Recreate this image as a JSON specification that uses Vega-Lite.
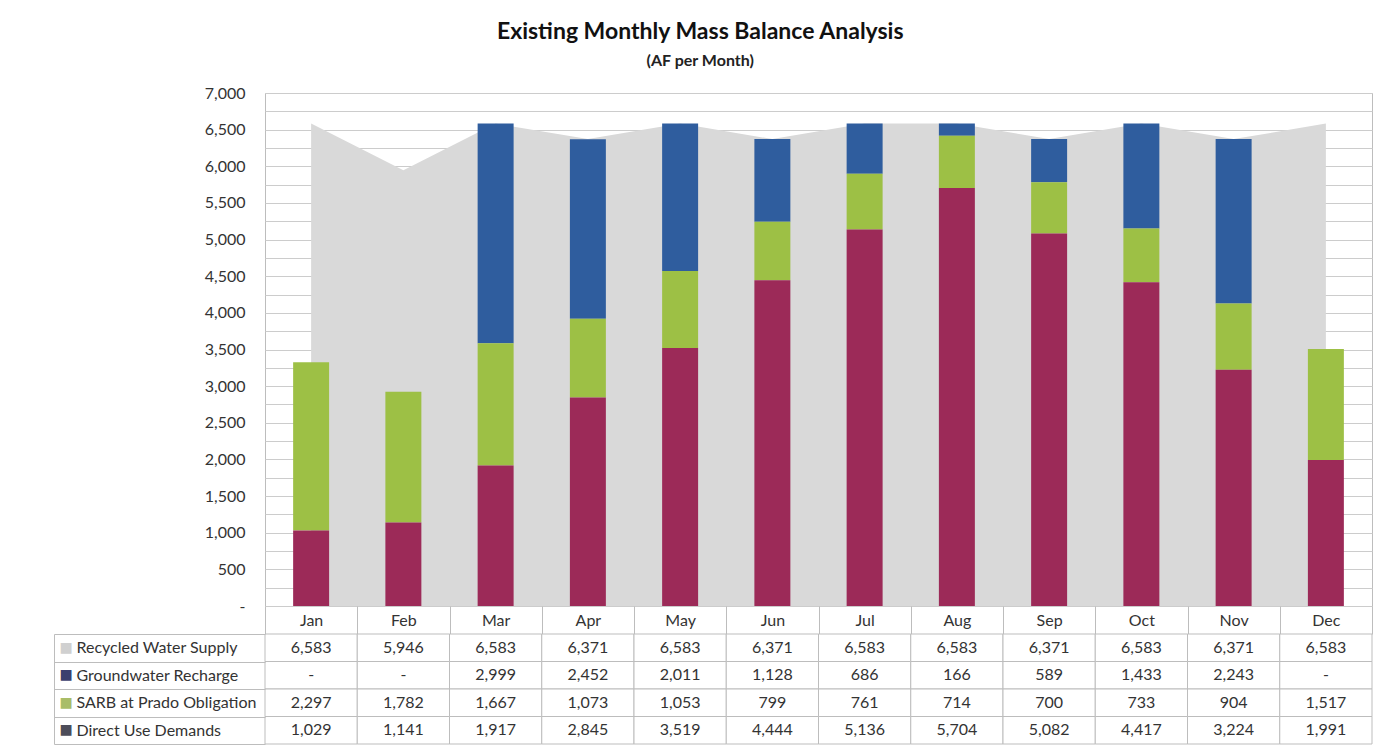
{
  "$schema": "https://vega.github.io/schema/vega-lite/v6.json",
  "padding": {"left": 53, "top": 20, "right": 22, "bottom": 2},
  "background": "white",
  "title": {
    "text": "Existing Monthly Mass Balance Analysis",
    "subtitle": "(AF per Month)",
    "font": "Lato",
    "fontSize": 23,
    "fontWeight": "bold",
    "color": "#111111",
    "subtitleFont": "Lato",
    "subtitleFontSize": 16,
    "subtitleFontWeight": "bold",
    "subtitleColor": "#222222",
    "subtitlePadding": 9,
    "anchor": "middle",
    "dx": -13,
    "offset": 16
  },
  "config": {
    "font": "Lato",
    "view": {"stroke": null}
  },
  "datasets": {
    "main": [
      {"month": "Jan", "series": "Recycled Water Supply", "value": 6583},
      {"month": "Feb", "series": "Recycled Water Supply", "value": 5946},
      {"month": "Mar", "series": "Recycled Water Supply", "value": 6583},
      {"month": "Apr", "series": "Recycled Water Supply", "value": 6371},
      {"month": "May", "series": "Recycled Water Supply", "value": 6583},
      {"month": "Jun", "series": "Recycled Water Supply", "value": 6371},
      {"month": "Jul", "series": "Recycled Water Supply", "value": 6583},
      {"month": "Aug", "series": "Recycled Water Supply", "value": 6583},
      {"month": "Sep", "series": "Recycled Water Supply", "value": 6371},
      {"month": "Oct", "series": "Recycled Water Supply", "value": 6583},
      {"month": "Nov", "series": "Recycled Water Supply", "value": 6371},
      {"month": "Dec", "series": "Recycled Water Supply", "value": 6583},
      {"month": "Jan", "series": "Groundwater Recharge", "value": 0},
      {"month": "Feb", "series": "Groundwater Recharge", "value": 0},
      {"month": "Mar", "series": "Groundwater Recharge", "value": 2999},
      {"month": "Apr", "series": "Groundwater Recharge", "value": 2452},
      {"month": "May", "series": "Groundwater Recharge", "value": 2011},
      {"month": "Jun", "series": "Groundwater Recharge", "value": 1128},
      {"month": "Jul", "series": "Groundwater Recharge", "value": 686},
      {"month": "Aug", "series": "Groundwater Recharge", "value": 166},
      {"month": "Sep", "series": "Groundwater Recharge", "value": 589},
      {"month": "Oct", "series": "Groundwater Recharge", "value": 1433},
      {"month": "Nov", "series": "Groundwater Recharge", "value": 2243},
      {"month": "Dec", "series": "Groundwater Recharge", "value": 0},
      {"month": "Jan", "series": "SARB at Prado Obligation", "value": 2297},
      {"month": "Feb", "series": "SARB at Prado Obligation", "value": 1782},
      {"month": "Mar", "series": "SARB at Prado Obligation", "value": 1667},
      {"month": "Apr", "series": "SARB at Prado Obligation", "value": 1073},
      {"month": "May", "series": "SARB at Prado Obligation", "value": 1053},
      {"month": "Jun", "series": "SARB at Prado Obligation", "value": 799},
      {"month": "Jul", "series": "SARB at Prado Obligation", "value": 761},
      {"month": "Aug", "series": "SARB at Prado Obligation", "value": 714},
      {"month": "Sep", "series": "SARB at Prado Obligation", "value": 700},
      {"month": "Oct", "series": "SARB at Prado Obligation", "value": 733},
      {"month": "Nov", "series": "SARB at Prado Obligation", "value": 904},
      {"month": "Dec", "series": "SARB at Prado Obligation", "value": 1517},
      {"month": "Jan", "series": "Direct Use Demands", "value": 1029},
      {"month": "Feb", "series": "Direct Use Demands", "value": 1141},
      {"month": "Mar", "series": "Direct Use Demands", "value": 1917},
      {"month": "Apr", "series": "Direct Use Demands", "value": 2845},
      {"month": "May", "series": "Direct Use Demands", "value": 3519},
      {"month": "Jun", "series": "Direct Use Demands", "value": 4444},
      {"month": "Jul", "series": "Direct Use Demands", "value": 5136},
      {"month": "Aug", "series": "Direct Use Demands", "value": 5704},
      {"month": "Sep", "series": "Direct Use Demands", "value": 5082},
      {"month": "Oct", "series": "Direct Use Demands", "value": 4417},
      {"month": "Nov", "series": "Direct Use Demands", "value": 3224},
      {"month": "Dec", "series": "Direct Use Demands", "value": 1991}
    ]
  },
  "vconcat": [
    {
      "width": 1107,
      "height": 513,
      "data": {"name": "main"},
      "view": {"stroke": "#bdbdbd", "strokeWidth": 1},
      "encoding": {
        "x": {
          "field": "month",
          "type": "nominal",
          "sort": ["Jan", "Feb", "Mar", "Apr", "May", "Jun", "Jul", "Aug", "Sep", "Oct", "Nov", "Dec"],
          "scale": {"paddingInner": 0, "paddingOuter": 0},
          "axis": {
            "title": null,
            "orient": "bottom",
            "domain": false,
            "grid": false,
            "ticks": true,
            "tickBand": "extent",
            "tickSize": 28,
            "tickColor": "#bdbdbd",
            "labelAngle": 0,
            "labelPadding": -22,
            "labelFontSize": 16,
            "labelColor": "#333333",
            "labelBaseline": "top"
          }
        }
      },
      "layer": [
        {
          "transform": [{"filter": "datum.series === 'Recycled Water Supply'"}],
          "mark": {"type": "area", "color": "#d9d9d9", "opacity": 1},
          "encoding": {
            "y": {
              "field": "value",
              "type": "quantitative",
              "scale": {"domain": [0, 7000], "nice": false},
              "axis": {
                "title": null,
                "values": [0, 250, 500, 750, 1000, 1250, 1500, 1750, 2000, 2250, 2500, 2750, 3000, 3250, 3500, 3750, 4000, 4250, 4500, 4750, 5000, 5250, 5500, 5750, 6000, 6250, 6500, 6750, 7000],
                "labelExpr": "datum.value == 0 ? '-' : (datum.value % 500 == 0 ? format(datum.value, ',') : '')",
                "labelOverlap": false,
                "grid": true,
                "gridColor": "#cccccc",
                "gridWidth": 1,
                "domain": false,
                "ticks": false,
                "labelPadding": 20,
                "labelFontSize": 16,
                "labelColor": "#333333"
              }
            }
          }
        },
        {
          "transform": [
            {"filter": "datum.series !== 'Recycled Water Supply'"},
            {"calculate": "indexof(['Direct Use Demands','SARB at Prado Obligation','Groundwater Recharge'], datum.series)", "as": "ord"}
          ],
          "mark": {"type": "bar", "width": {"band": 0.39}},
          "encoding": {
            "y": {
              "field": "value",
              "type": "quantitative",
              "stack": "zero",
              "axis": {
                "title": null,
                "values": [0, 250, 500, 750, 1000, 1250, 1500, 1750, 2000, 2250, 2500, 2750, 3000, 3250, 3500, 3750, 4000, 4250, 4500, 4750, 5000, 5250, 5500, 5750, 6000, 6250, 6500, 6750, 7000],
                "labelExpr": "datum.value == 0 ? '-' : (datum.value % 500 == 0 ? format(datum.value, ',') : '')",
                "labelOverlap": false,
                "grid": true,
                "gridColor": "#cccccc",
                "gridWidth": 1,
                "domain": false,
                "ticks": false,
                "labelPadding": 20,
                "labelFontSize": 16,
                "labelColor": "#333333"
              }
            },
            "order": {"field": "ord", "type": "quantitative", "sort": "ascending"},
            "color": {
              "field": "series",
              "type": "nominal",
              "legend": null,
              "scale": {
                "domain": ["Groundwater Recharge", "SARB at Prado Obligation", "Direct Use Demands"],
                "range": ["#2f5d9e", "#9dc045", "#9c2a58"]
              }
            }
          }
        }
      ]
    },
    {
      "width": 1107,
      "height": 110,
      "data": {"name": "main"},
      "transform": [
        {"calculate": "datum.value == 0 ? '-' : format(datum.value, ',')", "as": "label"}
      ],
      "encoding": {
        "x": {
          "field": "month",
          "type": "nominal",
          "sort": ["Jan", "Feb", "Mar", "Apr", "May", "Jun", "Jul", "Aug", "Sep", "Oct", "Nov", "Dec"],
          "scale": {"paddingInner": 0, "paddingOuter": 0},
          "axis": null
        }
      },
      "layer": [
        {
          "mark": {"type": "rect", "fill": "white", "stroke": "#bdbdbd", "strokeWidth": 1},
          "encoding": {
            "y": {
              "field": "series",
              "type": "nominal",
              "sort": ["Recycled Water Supply", "Groundwater Recharge", "SARB at Prado Obligation", "Direct Use Demands"],
              "scale": {"paddingInner": 0, "paddingOuter": 0},
              "axis": {
                "title": null,
                "orient": "left",
                "domain": false,
                "ticks": true,
                "tickBand": "extent",
                "tickSize": 211,
                "tickColor": "#bdbdbd",
                "labelAlign": "left",
                "labelPadding": -22,
                "labelFontSize": 16,
                "labelColor": "#333333"
              }
            }
          }
        },
        {
          "mark": {"type": "text", "fontSize": 16, "color": "#333333", "font": "Lato"},
          "encoding": {
            "y": {
              "field": "series",
              "type": "nominal",
              "sort": ["Recycled Water Supply", "Groundwater Recharge", "SARB at Prado Obligation", "Direct Use Demands"],
              "axis": {
                "title": null,
                "orient": "left",
                "domain": false,
                "ticks": false,
                "labelAlign": "left",
                "labelPadding": 206,
                "labelFontSize": 14,
                "labelFont": "DejaVu Sans",
                "labelExpr": "'■'",
                "labelColor": {
                  "condition": [
                    {"test": "datum.value === 'Recycled Water Supply'", "value": "#d0d0d0"},
                    {"test": "datum.value === 'Groundwater Recharge'", "value": "#3d3f6e"},
                    {"test": "datum.value === 'SARB at Prado Obligation'", "value": "#a9bd68"}
                  ],
                  "value": "#4d4d5a"
                }
              }
            },
            "text": {"field": "label", "type": "nominal"}
          }
        },
        {
          "mark": {"type": "text", "opacity": 0},
          "encoding": {
            "y": {
              "field": "series",
              "type": "nominal",
              "sort": ["Recycled Water Supply", "Groundwater Recharge", "SARB at Prado Obligation", "Direct Use Demands"],
              "axis": {
                "title": null,
                "orient": "left",
                "offset": 211,
                "domain": true,
                "domainColor": "#bdbdbd",
                "ticks": false,
                "labels": false
              }
            },
            "text": {"field": "label", "type": "nominal"}
          }
        }
      ],
      "resolve": {"axis": {"y": "independent"}}
    }
  ],
  "spacing": 28,
  "bounds": "flush"
}
